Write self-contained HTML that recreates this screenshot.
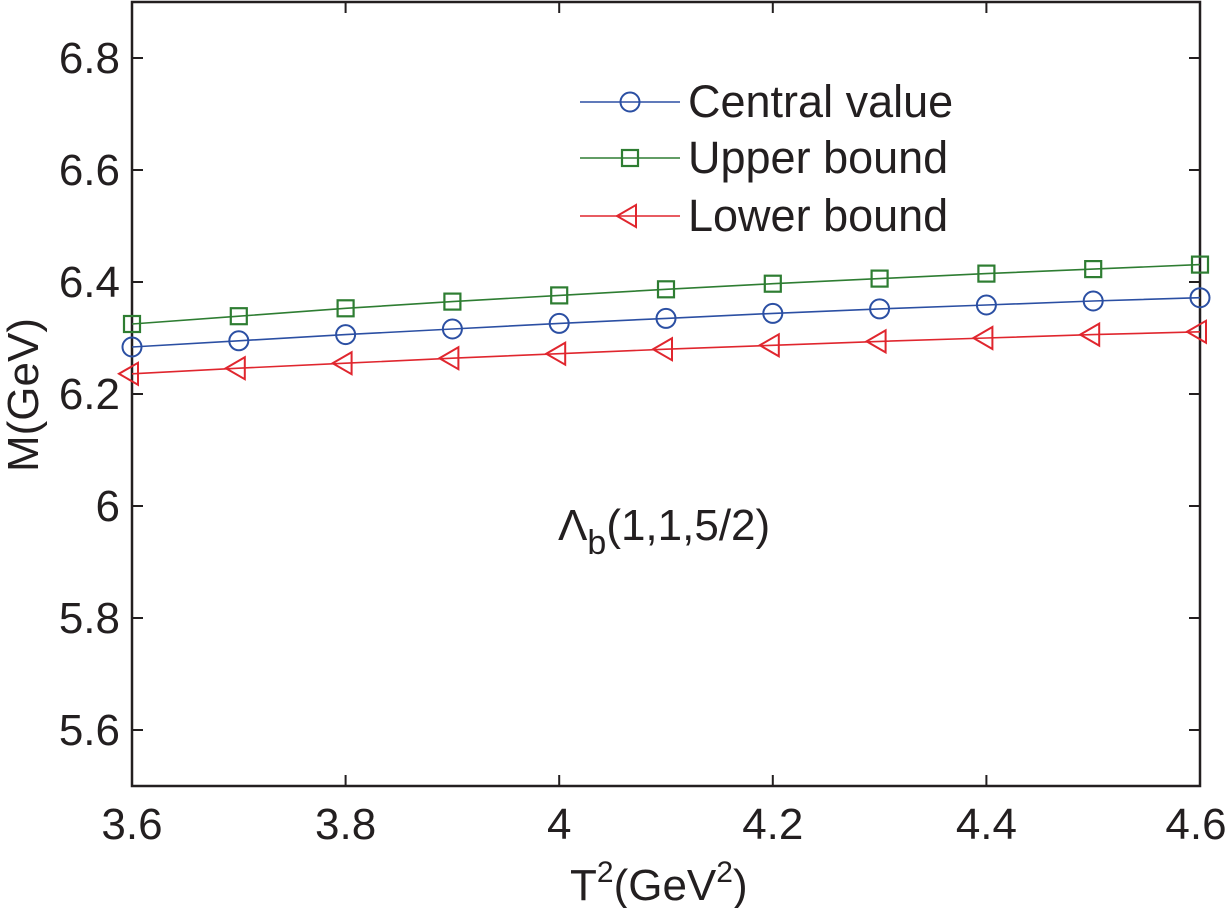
<!DOCTYPE html><html><head><style>body{margin:0;background:#fff}svg{display:block}text{font-family:"Liberation Sans",sans-serif;fill:#231f20}</style></head><body>
<svg width="1231" height="908" xmlns="http://www.w3.org/2000/svg" xmlns:xlink="http://www.w3.org/1999/xlink">
<defs>
<circle id="c" r="9.5" fill="none" stroke="#2b4fa3" stroke-width="2"/>
<rect id="s" x="-8" y="-8" width="16" height="16" fill="none" stroke="#2e7d32" stroke-width="2.2"/>
<polygon id="t" points="-13,0 6,-11 6,11" fill="none" stroke="#e0262e" stroke-width="2"/>
</defs>
<rect x="132" y="2" width="1068" height="784" fill="none" stroke="#231f20" stroke-width="2.5"/>
<g stroke="#231f20" stroke-width="2">
<path d="M132 786v-11M345.6 786v-11M559.2 786v-11M772.8 786v-11M986.4 786v-11M1200 786v-11M132 2v11M345.6 2v11M559.2 2v11M772.8 2v11M986.4 2v11M1200 2v11"/>
<path d="M132 730h11M132 618h11M132 506h11M132 394h11M132 282h11M132 170h11M132 58h11M1200 730h-11M1200 618h-11M1200 506h-11M1200 394h-11M1200 282h-11M1200 170h-11M1200 58h-11"/>
</g>
<g font-size="44" text-anchor="middle">
<text x="132" y="839">3.6</text><text x="345.6" y="839">3.8</text><text x="559.2" y="839">4</text><text x="772.8" y="839">4.2</text><text x="986.4" y="839">4.4</text><text x="1196" y="839">4.6</text>
</g>
<g font-size="44" text-anchor="end">
<text x="120" y="745">5.6</text><text x="120" y="633">5.8</text><text x="120" y="521">6</text><text x="120" y="409">6.2</text><text x="120" y="297">6.4</text><text x="120" y="185">6.6</text><text x="120" y="73">6.8</text>
</g>
<polyline points="132,324 238.8,316.2 345.6,308.3 452.4,301.6 559.2,295.4 666,289.3 772.8,283.7 879.6,278.6 986.4,273.6 1093.2,269.1 1200,264.6" fill="none" stroke="#2e7d32" stroke-width="1.6"/>
<polyline points="132,347 238.8,340.8 345.6,334.6 452.4,329 559.2,323.4 666,318.4 772.8,313.4 879.6,308.9 986.4,305 1093.2,301 1200,297.7" fill="none" stroke="#2b4fa3" stroke-width="1.6"/>
<polyline points="132,373.8 238.8,368.2 345.6,363.2 452.4,358.2 559.2,353.7 666,349.2 772.8,345.3 879.6,341.4 986.4,338 1093.2,334.6 1200,331.8" fill="none" stroke="#e0262e" stroke-width="1.6"/>
<use xlink:href="#s" x="132" y="324"/><use xlink:href="#s" x="238.8" y="316.2"/><use xlink:href="#s" x="345.6" y="308.3"/><use xlink:href="#s" x="452.4" y="301.6"/><use xlink:href="#s" x="559.2" y="295.4"/><use xlink:href="#s" x="666" y="289.3"/><use xlink:href="#s" x="772.8" y="283.7"/><use xlink:href="#s" x="879.6" y="278.6"/><use xlink:href="#s" x="986.4" y="273.6"/><use xlink:href="#s" x="1093.2" y="269.1"/><use xlink:href="#s" x="1200" y="264.6"/>
<use xlink:href="#c" x="132" y="347"/><use xlink:href="#c" x="238.8" y="340.8"/><use xlink:href="#c" x="345.6" y="334.6"/><use xlink:href="#c" x="452.4" y="329"/><use xlink:href="#c" x="559.2" y="323.4"/><use xlink:href="#c" x="666" y="318.4"/><use xlink:href="#c" x="772.8" y="313.4"/><use xlink:href="#c" x="879.6" y="308.9"/><use xlink:href="#c" x="986.4" y="305"/><use xlink:href="#c" x="1093.2" y="301"/><use xlink:href="#c" x="1200" y="297.7"/>
<use xlink:href="#t" x="132" y="373.8"/><use xlink:href="#t" x="238.8" y="368.2"/><use xlink:href="#t" x="345.6" y="363.2"/><use xlink:href="#t" x="452.4" y="358.2"/><use xlink:href="#t" x="559.2" y="353.7"/><use xlink:href="#t" x="666" y="349.2"/><use xlink:href="#t" x="772.8" y="345.3"/><use xlink:href="#t" x="879.6" y="341.4"/><use xlink:href="#t" x="986.4" y="338"/><use xlink:href="#t" x="1093.2" y="334.6"/><use xlink:href="#t" x="1200" y="331.8"/>
<line x1="580" y1="102" x2="680" y2="102" stroke="#2b4fa3" stroke-width="1.6"/><use xlink:href="#c" x="630" y="102"/><text x="688" y="117" font-size="45">Central value</text>
<line x1="580" y1="158" x2="680" y2="158" stroke="#2e7d32" stroke-width="1.6"/><use xlink:href="#s" x="630" y="158"/><text x="688" y="173" font-size="45">Upper bound</text>
<line x1="580" y1="216" x2="680" y2="216" stroke="#e0262e" stroke-width="1.6"/><use xlink:href="#t" x="630" y="216"/><text x="688" y="231" font-size="45">Lower bound</text>
<text x="558" y="540" font-size="44">Λ<tspan font-size="34" dy="14">b</tspan><tspan dy="-14">(1,1,5/2)</tspan></text>
<text x="570" y="900" font-size="44">T<tspan font-size="30" dy="-18">2</tspan><tspan dy="18">(GeV</tspan><tspan font-size="30" dy="-18">2</tspan><tspan dy="18">)</tspan></text>
<text transform="translate(38,395) rotate(-90)" font-size="44" text-anchor="middle">M(GeV)</text>
</svg></body></html>
